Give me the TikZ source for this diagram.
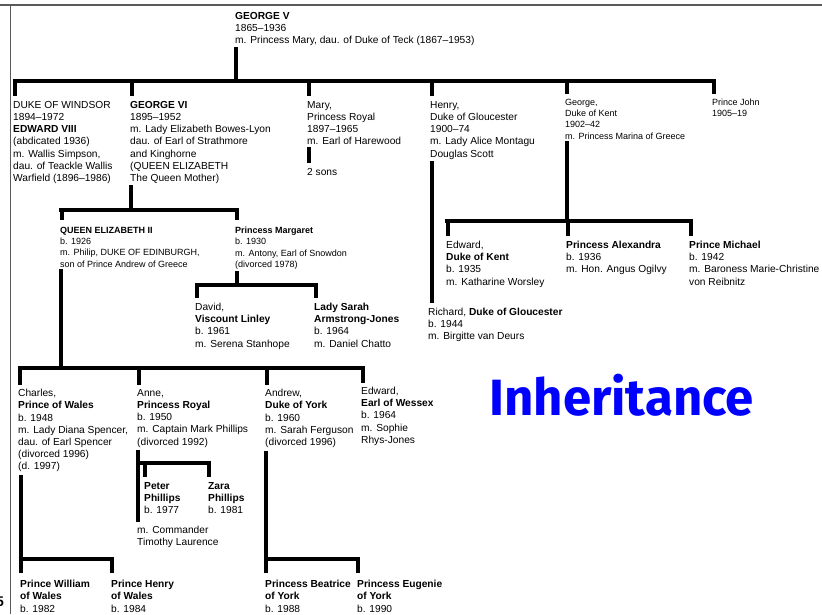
\documentclass[tikz,border=0pt]{standalone}
\usepackage{fontspec}
\setmainfont{Liberation Sans}
\newfontfamily\headfont{Fira Sans}
\definecolor{framegray}{RGB}{90,90,90}
\definecolor{headblue}{RGB}{0,0,255}
\begin{document}
\begin{tikzpicture}[x=1pt, y=-1pt,
	person/.style={anchor=north west, inner sep=0pt, align=left, font=\fontsize{10.2}{12.2}\selectfont},
	small/.style={person, font=\fontsize{9}{11.2}\selectfont},
	kin/.style={line width=4pt, line cap=rect},
	frame/.style={draw=framegray, line width=1.3pt}]
	\useasboundingbox (0,0) rectangle (822,614);
	\clip (0,0) rectangle (822,614);
	\draw[frame] (0,5) -- (822,5);
	\draw[frame] (10.5,5) -- (10.5,614);
	\node[anchor=base east, inner sep=0pt, font=\fontsize{14}{14}\selectfont\bfseries] (page) at (4,606) {5};
	% generation 1 and 2
	\node[person] (g5) at (235,12) {\textbf{GEORGE V}\\1865--1936\\m. Princess Mary, dau. of Duke of Teck (1867--1953)};
	\node[person] (windsor) at (13,101) {DUKE OF WINDSOR\\1894--1972\\\textbf{EDWARD VIII}\\(abdicated 1936)\\m. Wallis Simpson,\\dau. of Teackle Wallis\\Warfield (1896--1986)};
	\node[person] (g6) at (130,101) {\textbf{GEORGE VI}\\1895--1952\\m. Lady Elizabeth Bowes-Lyon\\dau. of Earl of Strathmore\\and Kinghorne\\(QUEEN ELIZABETH\\The Queen Mother)};
	\node[person] (mary) at (307,101) {Mary,\\Princess Royal\\1897--1965\\m. Earl of Harewood};
	\node[person] (marysons) at (307,168) {2 sons};
	\node[person] (henry) at (430,101) {Henry,\\Duke of Gloucester\\1900--74\\m. Lady Alice Montagu\\Douglas Scott};
	\node[small] (kent) at (565,99) {George,\\Duke of Kent\\1902--42\\m. Princess Marina of Greece};
	\node[small] (john) at (712,99) {Prince John\\1905--19};
	\coordinate (g5bar) at (236,81);
	\draw[kin] ([shift={(1,3)}]g5.south west) -- (g5bar);
	\draw[kin] ([xshift=1.5]windsor.north west |- g5bar) -- ([xshift=2]john.north west |- g5bar);
	\foreach \c in {windsor,g6,mary,henry,kent,john}
		\draw[kin] ([xshift=1.5]\c.north west |- g5bar) -- ([shift={(1.5,-7)}]\c.north west);
	\draw[kin] ([shift={(1.5,4)}]mary.south west) -- ([shift={(1.5,-7)}]marysons.north west);
	% generation 3
	\node[small] (qe2) at (60,227) {\textbf{QUEEN ELIZABETH II}\\b. 1926\\m. Philip, DUKE OF EDINBURGH,\\son of Prince Andrew of Greece};
	\node[small] (margaret) at (235,227) {\textbf{Princess Margaret}\\b. 1930\\m. Antony, Earl of Snowdon\\(divorced 1978)};
	\node[person] (linley) at (195,303) {David,\\\textbf{Viscount Linley}\\b. 1961\\m. Serena Stanhope};
	\node[person] (sarah) at (314,303) {\textbf{Lady Sarah}\\\textbf{Armstrong-Jones}\\b. 1964\\m. Daniel Chatto};
	\node[person] (edkent) at (446,241) {Edward,\\\textbf{Duke of Kent}\\b. 1935\\m. Katharine Worsley};
	\node[person] (alexandra) at (566,241) {\textbf{Princess Alexandra}\\b. 1936\\m. Hon. Angus Ogilvy};
	\node[person] (michael) at (689,241) {\textbf{Prince Michael}\\b. 1942\\m. Baroness Marie-Christine\\von Reibnitz};
	\node[person] (richard) at (428,308) {Richard, \textbf{Duke of Gloucester}\\b. 1944\\m. Birgitte van Deurs};
	\coordinate (g6bar) at (131,210);
	\draw[kin] ([shift={(1,3)}]g6.south west) -- (g6bar);
	\draw[kin] ([xshift=1]qe2.north west |- g6bar) -- ([xshift=2]margaret.north west |- g6bar);
	\foreach \c in {qe2,margaret}
		\draw[kin] ([xshift=1.5]\c.north west |- g6bar) -- ([shift={(1.5,-9)}]\c.north west);
	\coordinate (margbar) at (237,285);
	\draw[kin] ([shift={(2,4)}]margaret.south west) -- (margbar);
	\draw[kin] ([xshift=2]linley.north west |- margbar) -- ([xshift=2]sarah.north west |- margbar);
	\foreach \c in {linley,sarah}
		\draw[kin] ([xshift=2]\c.north west |- margbar) -- ([shift={(2,-7)}]\c.north west);
	\coordinate (kentbar) at (567,221);
	\draw[kin] ([shift={(2,4)}]kent.south west) -- (kentbar);
	\draw[kin] ([xshift=1]edkent.north west |- kentbar) -- ([xshift=2]michael.north west |- kentbar);
	\foreach \c in {edkent,alexandra,michael}
		\draw[kin] ([xshift=1.5]\c.north west |- kentbar) -- ([shift={(1.5,-7)}]\c.north west);
	\draw[kin] ([shift={(2,4)}]henry.south west) -- ([shift={(2,-7)}]henry.south west |- richard.north);
	% generation 4 and 5
	\node[person] (charles) at (18,389) {Charles,\\\textbf{Prince of Wales}\\b. 1948\\m. Lady Diana Spencer,\\dau. of Earl Spencer\\(divorced 1996)\\(d. 1997)};
	\node[person] (anne) at (137,389) {Anne,\\\textbf{Princess Royal}\\b. 1950\\m. Captain Mark Phillips\\(divorced 1992)};
	\node[person] (andrew) at (265,389) {Andrew,\\\textbf{Duke of York}\\b. 1960\\m. Sarah Ferguson\\(divorced 1996)};
	\node[person] (edward) at (361,387) {Edward,\\\textbf{Earl of Wessex}\\b. 1964\\m. Sophie\\Rhys-Jones};
	\node[person] (peter) at (144,482) {\textbf{Peter}\\\textbf{Phillips}\\b. 1977};
	\node[person] (zara) at (208,482) {\textbf{Zara}\\\textbf{Phillips}\\b. 1981};
	\node[person] (annem) at (137,526) {m. Commander\\Timothy Laurence};
	\node[person] (william) at (20,580) {\textbf{Prince William}\\\textbf{of Wales}\\b. 1982};
	\node[person] (harry) at (111,580) {\textbf{Prince Henry}\\\textbf{of Wales}\\b. 1984};
	\node[person] (beatrice) at (265,580) {\textbf{Princess Beatrice}\\\textbf{of York}\\b. 1988};
	\node[person] (eugenie) at (357,580) {\textbf{Princess Eugenie}\\\textbf{of York}\\b. 1990};
	\coordinate (qe2bar) at (61,368);
	\draw[kin] ([shift={(1,4)}]qe2.south west) -- (qe2bar);
	\draw[kin] ([xshift=1.5]charles.north west |- qe2bar) -- ([xshift=2]edward.north west |- qe2bar);
	\foreach \c in {charles,anne,andrew,edward}
		\draw[kin] ([xshift=1.5]\c.north west |- qe2bar) -- ([shift={(1.5,-6)}]\c.north west);
	\coordinate (annebar) at (138,463);
	\draw[kin] ([shift={(1,5)}]anne.south west) -- ([shift={(1,-6)}]anne.south west |- annem.north);
	\draw[kin] (annebar) -- ([xshift=1]zara.north west |- annebar);
	\foreach \c in {peter,zara}
		\draw[kin] ([xshift=1]\c.north west |- annebar) -- ([shift={(1,-7)}]\c.north west);
	\coordinate (charlesbar) at (21,559);
	\draw[kin] ([shift={(3,5)}]charles.south west) -- (charlesbar);
	\draw[kin] (charlesbar) -- ([xshift=1]harry.north west |- charlesbar);
	\foreach \c in {william,harry}
		\draw[kin] ([xshift=1]\c.north west |- charlesbar) -- ([shift={(1,-9)}]\c.north west);
	\coordinate (andrewbar) at (266,559);
	\draw[kin] ([shift={(1,5)}]andrew.south west) -- (andrewbar);
	\draw[kin] (andrewbar) -- ([xshift=1]eugenie.north west |- andrewbar);
	\foreach \c in {beatrice,eugenie}
		\draw[kin] ([xshift=1]\c.north west |- andrewbar) -- ([shift={(1,-9)}]\c.north west);
	\node[anchor=base west, inner sep=0pt, text=headblue, font=\headfont\fontsize{51}{51}\selectfont\bfseries] (title) at (489,415) {Inheritance};
\end{tikzpicture}
\end{document}
